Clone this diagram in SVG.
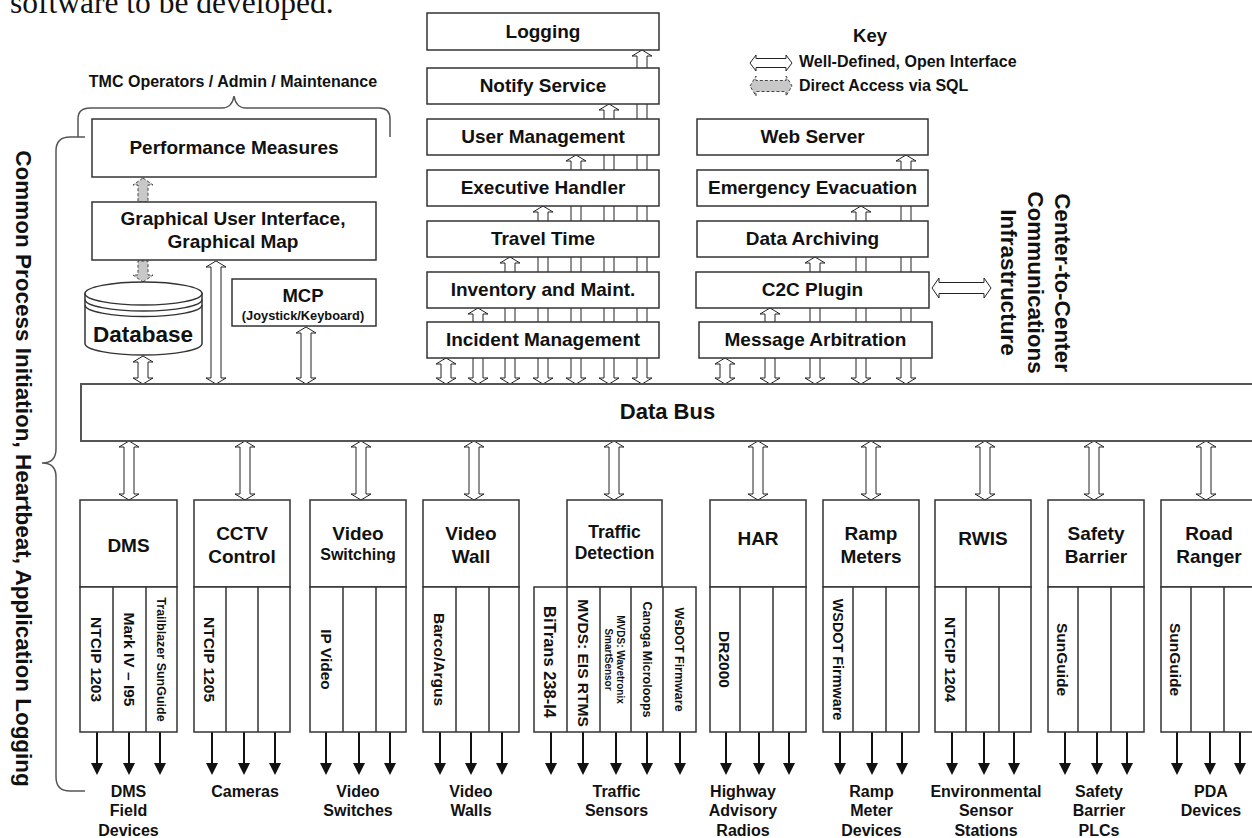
<svg xmlns="http://www.w3.org/2000/svg" width="1252" height="838" viewBox="0 0 1252 838">
<style>
.box{fill:#fff;stroke:#333;stroke-width:1.5}
.bus{fill:#fff;stroke:#555;stroke-width:2}
.t{font-family:"Liberation Sans",Arial,Helvetica,sans-serif;font-weight:bold;fill:#111;text-anchor:middle}
.ts{font-family:"Liberation Sans",Arial,Helvetica,sans-serif;font-weight:bold;fill:#111;text-anchor:start}
.ha{fill:#fff;stroke:#222;stroke-width:1}
.sql{fill:#c8c8c8;stroke:#444;stroke-width:1;stroke-dasharray:3 2}
.down{stroke:#111;stroke-width:2;fill:none;marker-end:url(#tri)}
.brace{fill:none;stroke:#555;stroke-width:1.5}
.div{fill:none;stroke:#333;stroke-width:1.5}
</style>
<defs>
<marker id="tri" viewBox="0 0 12 12" refX="3" refY="6" markerWidth="12" markerHeight="12" markerUnits="userSpaceOnUse" orient="auto">
<path d="M0,0 L12,6 L0,12 z" fill="#111"/>
</marker>
</defs>

<text x="10" y="13" font-family="'Liberation Serif','Times New Roman',serif" font-size="31.5" fill="#111">software to be developed.</text>

<!-- connectors -->
<g id="connectors">
<!-- left area -->
<path class="ha" d="M143,356 l10,6 h-5 v16 h5 l-10,6 l-10,-6 h5 v-16 h-5 z"/>
<path class="ha" d="M216,261 l10,6 h-5 v111 h5 l-10,6 l-10,-6 h5 v-111 h-5 z"/>
<path class="ha" d="M306,327 l10,6 h-5 v45 h5 l-10,6 l-10,-6 h5 v-45 h-5 z"/>
<path class="sql" d="M143,178 l10,7 h-5 v17 h-10 v-17 h-5 z"/>
<path class="sql" d="M143,282 l10,-7 h-5 v-14 h-10 v14 h-5 z"/>
<!-- middle column -->
<path class="ha" d="M446,358 l10,6 h-5 v14 h5 l-10,6 l-10,-6 h5 v-14 h-5 z"/>
<path class="ha" d="M478,308 l10,6 h-5 v64 h5 l-10,6 l-10,-6 h5 v-64 h-5 z"/>
<path class="ha" d="M510,257 l10,6 h-5 v115 h5 l-10,6 l-10,-6 h5 v-115 h-5 z"/>
<path class="ha" d="M543,206 l10,6 h-5 v166 h5 l-10,6 l-10,-6 h5 v-166 h-5 z"/>
<path class="ha" d="M576,155 l10,6 h-5 v217 h5 l-10,6 l-10,-6 h5 v-217 h-5 z"/>
<path class="ha" d="M609,104 l10,6 h-5 v268 h5 l-10,6 l-10,-6 h5 v-268 h-5 z"/>
<path class="ha" d="M642,50 l10,6 h-5 v322 h5 l-10,6 l-10,-6 h5 v-322 h-5 z"/>
<!-- right column -->
<path class="ha" d="M725,358 l10,6 h-5 v14 h5 l-10,6 l-10,-6 h5 v-14 h-5 z"/>
<path class="ha" d="M770,308 l10,6 h-5 v64 h5 l-10,6 l-10,-6 h5 v-64 h-5 z"/>
<path class="ha" d="M815,257 l10,6 h-5 v115 h5 l-10,6 l-10,-6 h5 v-115 h-5 z"/>
<path class="ha" d="M861,206 l10,6 h-5 v166 h5 l-10,6 l-10,-6 h5 v-166 h-5 z"/>
<path class="ha" d="M906,155 l10,6 h-5 v217 h5 l-10,6 l-10,-6 h5 v-217 h-5 z"/>
<!-- C2C external -->
<path class="ha" d="M932,288 l7,-10 v4.5 h45 v-4.5 l7,10 l-7,10 v-4.5 h-45 v4.5 z"/>
<!-- bus to devices -->
<path class="ha" d="M129,441 l10,6 h-5 v47 h5 l-10,6 l-10,-6 h5 v-47 h-5 z"/>
<path class="ha" d="M245,441 l10,6 h-5 v47 h5 l-10,6 l-10,-6 h5 v-47 h-5 z"/>
<path class="ha" d="M361,441 l10,6 h-5 v47 h5 l-10,6 l-10,-6 h5 v-47 h-5 z"/>
<path class="ha" d="M474,441 l10,6 h-5 v47 h5 l-10,6 l-10,-6 h5 v-47 h-5 z"/>
<path class="ha" d="M614,441 l10,6 h-5 v47 h5 l-10,6 l-10,-6 h5 v-47 h-5 z"/>
<path class="ha" d="M758,441 l10,6 h-5 v47 h5 l-10,6 l-10,-6 h5 v-47 h-5 z"/>
<path class="ha" d="M871,441 l10,6 h-5 v47 h5 l-10,6 l-10,-6 h5 v-47 h-5 z"/>
<path class="ha" d="M985,441 l10,6 h-5 v47 h5 l-10,6 l-10,-6 h5 v-47 h-5 z"/>
<path class="ha" d="M1094,441 l10,6 h-5 v47 h5 l-10,6 l-10,-6 h5 v-47 h-5 z"/>
<path class="ha" d="M1206,441 l10,6 h-5 v47 h5 l-10,6 l-10,-6 h5 v-47 h-5 z"/>
<!-- device outputs -->
<path class="down" d="M97,732V766"/><path class="down" d="M129,732V766"/><path class="down" d="M160,732V766"/>
<path class="down" d="M212,732V766"/><path class="down" d="M244,732V766"/><path class="down" d="M275,732V766"/>
<path class="down" d="M326,732V766"/><path class="down" d="M359,732V766"/><path class="down" d="M390,732V766"/>
<path class="down" d="M440,732V766"/><path class="down" d="M471,732V766"/><path class="down" d="M502,732V766"/>
<path class="down" d="M551,732V766"/><path class="down" d="M583,732V766"/><path class="down" d="M616,732V766"/><path class="down" d="M647,732V766"/><path class="down" d="M680,732V766"/>
<path class="down" d="M726,732V766"/><path class="down" d="M759,732V766"/><path class="down" d="M789,732V766"/>
<path class="down" d="M840,732V766"/><path class="down" d="M872,732V766"/><path class="down" d="M902,732V766"/>
<path class="down" d="M952,732V766"/><path class="down" d="M984,732V766"/><path class="down" d="M1014,732V766"/>
<path class="down" d="M1065,732V766"/><path class="down" d="M1097,732V766"/><path class="down" d="M1127,732V766"/>
<path class="down" d="M1177,732V766"/><path class="down" d="M1210,732V766"/><path class="down" d="M1240,732V766"/>
</g>

<!-- braces and side labels -->
<g id="operators">
<path class="brace" d="M78,137 V119 Q78,108 90,108 H222 Q232,108 234,96 Q236,108 246,108 H379 Q390,108 390,119 V137"/>
<text class="t" x="233" y="87" font-size="16">TMC Operators / Admin / Maintenance</text>
</g>
<g id="common-process">
<path class="brace" d="M85,137 H70 Q56,137 56,151 V449 Q56,463 42,463 Q56,463 56,477 V777 Q56,791 70,791 H85"/>
<text class="t" font-size="22.5" transform="translate(24,468.5) rotate(90)" y="8">Common Process Initiation, Heartbeat, Application Logging</text>
</g>

<!-- key -->
<g id="key">
<text class="t" x="870" y="42" font-size="18.5">Key</text>
<path class="ha" d="M750,63 l6,-8 v3.5 h30 v-3.5 l6,8 l-6,8 v-3.5 h-30 v3.5 z"/>
<text class="ts" x="799" y="67" font-size="16">Well-Defined, Open Interface</text>
<path class="sql" d="M750,86 l6,-10 v4.5 h30 v-4.5 l6,10 l-6,10 v-4.5 h-30 v4.5 z"/>
<text class="ts" x="799" y="90.5" font-size="16">Direct Access via SQL</text>
</g>

<!-- left nodes -->
<g id="performance-measures"><rect class="box" x="92" y="119" width="284" height="58"/><text class="t" x="234" y="154" font-size="19">Performance Measures</text></g>
<g id="gui"><rect class="box" x="92" y="202" width="284" height="58"/><text class="t" x="233" y="225" font-size="19">Graphical User Interface,</text><text class="t" x="233" y="248" font-size="19">Graphical Map</text></g>
<g id="database">
<path class="box" d="M85,293.5 V343.5 A58.5,11.5 0 0 0 202,343.5 V293.5 Z"/>
<ellipse class="box" cx="143.5" cy="293.5" rx="58.5" ry="11.5"/>
<path class="div" d="M85,299.5 A58.5,11.5 0 0 0 202,299.5 M85,305 A58.5,11.5 0 0 0 202,305"/>
<text class="t" x="143" y="342" font-size="22.5">Database</text>
</g>
<g id="mcp"><rect class="box" x="232" y="279" width="144" height="47"/><text class="t" x="303" y="302" font-size="18.5">MCP</text><text class="t" x="303" y="319.5" font-size="12.8">(Joystick/Keyboard)</text></g>

<!-- middle column -->
<g id="logging"><rect class="box" x="427" y="13" width="232" height="37"/><text class="t" x="543" y="37.5" font-size="19">Logging</text></g>
<g id="notify-service"><rect class="box" x="427" y="68" width="232" height="36"/><text class="t" x="543" y="91.5" font-size="19">Notify Service</text></g>
<g id="user-management"><rect class="box" x="427" y="119" width="232" height="36"/><text class="t" x="543" y="142.5" font-size="19">User Management</text></g>
<g id="executive-handler"><rect class="box" x="427" y="170" width="232" height="36"/><text class="t" x="543" y="193.5" font-size="19">Executive Handler</text></g>
<g id="travel-time"><rect class="box" x="427" y="221" width="232" height="36"/><text class="t" x="543" y="244.5" font-size="19">Travel Time</text></g>
<g id="inventory"><rect class="box" x="427" y="272" width="232" height="36"/><text class="t" x="543" y="295.5" font-size="19">Inventory and Maint.</text></g>
<g id="incident-management"><rect class="box" x="427" y="322" width="232" height="36"/><text class="t" x="543" y="345.5" font-size="19">Incident Management</text></g>

<!-- right column -->
<g id="web-server"><rect class="box" x="697" y="119" width="231" height="36"/><text class="t" x="812.5" y="142.5" font-size="19">Web Server</text></g>
<g id="emergency-evacuation"><rect class="box" x="697" y="170" width="231" height="36"/><text class="t" x="812.5" y="193.5" font-size="19">Emergency Evacuation</text></g>
<g id="data-archiving"><rect class="box" x="697" y="221" width="231" height="36"/><text class="t" x="812.5" y="244.5" font-size="19">Data Archiving</text></g>
<g id="c2c-plugin"><rect class="box" x="696" y="272" width="233" height="36"/><text class="t" x="812.5" y="295.5" font-size="19">C2C Plugin</text></g>
<g id="message-arbitration"><rect class="box" x="699" y="322" width="233" height="36"/><text class="t" x="815.5" y="345.5" font-size="19">Message Arbitration</text></g>

<g id="c2c-infrastructure">
<text class="t" font-size="22.5" transform="translate(1063,282.5) rotate(90)" y="8">Center-to-Center</text>
<text class="t" font-size="22.5" transform="translate(1036,282.5) rotate(90)" y="8">Communications</text>
<text class="t" font-size="22.5" transform="translate(1009,282.5) rotate(90)" y="8">Infrastructure</text>
</g>

<!-- data bus -->
<g id="data-bus"><rect class="bus" x="81" y="384" width="1190" height="57"/><text class="t" x="667.5" y="418.5" font-size="22">Data Bus</text></g>

<!-- devices -->
<g id="dms">
<rect class="box" x="80" y="500" width="97" height="87"/><rect class="box" x="80" y="587" width="97" height="145"/>
<path class="div" d="M113,587V732M146,587V732"/>
<text class="t" x="128.5" y="552" font-size="19">DMS</text>
<text class="t" font-size="15.5" transform="translate(96.5,659.5) rotate(90)" y="5.6">NTCIP 1203</text>
<text class="t" font-size="15.5" transform="translate(129.5,659.5) rotate(90)" y="5.6">Mark IV – I95</text>
<text class="t" font-size="12.5" transform="translate(161.5,659.5) rotate(90)" y="4.5">Trailblazer SunGuide</text>
</g>
<g id="cctv">
<rect class="box" x="194" y="500" width="96" height="87"/><rect class="box" x="194" y="587" width="96" height="145"/>
<path class="div" d="M226,587V732M258,587V732"/>
<text class="t" x="242" y="540" font-size="19">CCTV</text><text class="t" x="242" y="563" font-size="19">Control</text>
<text class="t" font-size="15.5" transform="translate(210,659.5) rotate(90)" y="5.6">NTCIP 1205</text>
</g>
<g id="video-switching">
<rect class="box" x="310" y="500" width="96" height="87"/><rect class="box" x="310" y="587" width="96" height="145"/>
<path class="div" d="M343,587V732M376,587V732"/>
<text class="t" x="358" y="540" font-size="19">Video</text><text class="t" x="358" y="559.5" font-size="16">Switching</text>
<text class="t" font-size="15.5" transform="translate(326.5,659.5) rotate(90)" y="5.6">IP Video</text>
</g>
<g id="video-wall">
<rect class="box" x="423" y="500" width="96" height="87"/><rect class="box" x="423" y="587" width="96" height="145"/>
<path class="div" d="M456,587V732M489,587V732"/>
<text class="t" x="471" y="539.5" font-size="19">Video</text><text class="t" x="471" y="563" font-size="19">Wall</text>
<text class="t" font-size="15.5" transform="translate(439.5,659.5) rotate(90)" y="5.6">Barco/Argus</text>
</g>
<g id="traffic-detection">
<rect class="box" x="567" y="500" width="95" height="87"/><rect class="box" x="534" y="587" width="162" height="145"/>
<path class="div" d="M567,587V732M600,587V732M631,587V732M663,587V732"/>
<text class="t" x="614.5" y="537.5" font-size="17.5">Traffic</text><text class="t" x="614.5" y="559" font-size="17.5">Detection</text>
<text class="t" font-size="16.5" transform="translate(550,662) rotate(90)" y="5.9">BiTrans 238-I4</text>
<text class="t" font-size="15.5" transform="translate(583.5,663) rotate(90)" y="5.6">MVDS: EIS RTMS</text>
<text class="t" font-size="10" transform="translate(615.5,659.5) rotate(90)"><tspan x="0" y="-1.9">MVDS: Wavetronix</tspan><tspan x="0" y="10.1">SmartSensor</tspan></text>
<text class="t" font-size="12.5" transform="translate(647,659.5) rotate(90)" y="4.5">Canoga Microloops</text>
<text class="t" font-size="12.5" transform="translate(679.5,659.5) rotate(90)" y="4.5">WsDOT Firmware</text>
</g>
<g id="har">
<rect class="box" x="710" y="500" width="96" height="87"/><rect class="box" x="710" y="587" width="96" height="145"/>
<path class="div" d="M740,587V732M773,587V732"/>
<text class="t" x="758" y="545" font-size="19">HAR</text>
<text class="t" font-size="15.5" transform="translate(725,659.5) rotate(90)" y="5.6">DR2000</text>
</g>
<g id="ramp-meters">
<rect class="box" x="823" y="500" width="96" height="87"/><rect class="box" x="823" y="587" width="96" height="145"/>
<path class="div" d="M853,587V732M886,587V732"/>
<text class="t" x="871" y="539.5" font-size="19">Ramp</text><text class="t" x="871" y="563" font-size="19">Meters</text>
<text class="t" font-size="14.4" transform="translate(838,659.5) rotate(90)" y="5.2">WSDOT Firmware</text>
</g>
<g id="rwis">
<rect class="box" x="935" y="500" width="96" height="87"/><rect class="box" x="935" y="587" width="96" height="145"/>
<path class="div" d="M966,587V732M999,587V732"/>
<text class="t" x="983" y="545" font-size="19">RWIS</text>
<text class="t" font-size="15.5" transform="translate(950.5,659.5) rotate(90)" y="5.6">NTCIP 1204</text>
</g>
<g id="safety-barrier">
<rect class="box" x="1048" y="500" width="96" height="87"/><rect class="box" x="1048" y="587" width="96" height="145"/>
<path class="div" d="M1078,587V732M1111,587V732"/>
<text class="t" x="1096" y="539.5" font-size="19">Safety</text><text class="t" x="1096" y="563" font-size="19">Barrier</text>
<text class="t" font-size="15.5" transform="translate(1063,659.5) rotate(90)" y="5.6">SunGuide</text>
</g>
<g id="road-ranger">
<rect class="box" x="1161" y="500" width="96" height="87"/><rect class="box" x="1161" y="587" width="96" height="145"/>
<path class="div" d="M1191,587V732M1224,587V732"/>
<text class="t" x="1209" y="539.5" font-size="19">Road</text><text class="t" x="1209" y="563" font-size="19">Ranger</text>
<text class="t" font-size="15.5" transform="translate(1176,659.5) rotate(90)" y="5.6">SunGuide</text>
</g>

<!-- field device labels -->
<g id="dms-field-devices"><text class="t" x="128.5" y="797" font-size="16">DMS</text><text class="t" x="128.5" y="816.3" font-size="16">Field</text><text class="t" x="128.5" y="835.6" font-size="16">Devices</text></g>
<g id="cameras"><text class="t" x="245" y="797" font-size="16">Cameras</text></g>
<g id="video-switches"><text class="t" x="358" y="797" font-size="16">Video</text><text class="t" x="358" y="816.3" font-size="16">Switches</text></g>
<g id="video-walls"><text class="t" x="471" y="797" font-size="16">Video</text><text class="t" x="471" y="816.3" font-size="16">Walls</text></g>
<g id="traffic-sensors"><text class="t" x="616.5" y="797" font-size="16">Traffic</text><text class="t" x="616.5" y="816.3" font-size="16">Sensors</text></g>
<g id="highway-advisory-radios"><text class="t" x="743" y="797" font-size="16">Highway</text><text class="t" x="743" y="816.3" font-size="16">Advisory</text><text class="t" x="743" y="835.6" font-size="16">Radios</text></g>
<g id="ramp-meter-devices"><text class="t" x="871.5" y="797" font-size="16">Ramp</text><text class="t" x="871.5" y="816.3" font-size="16">Meter</text><text class="t" x="871.5" y="835.6" font-size="16">Devices</text></g>
<g id="environmental-sensor-stations"><text class="t" x="986" y="797" font-size="16">Environmental</text><text class="t" x="986" y="816.3" font-size="16">Sensor</text><text class="t" x="986" y="835.6" font-size="16">Stations</text></g>
<g id="safety-barrier-plcs"><text class="t" x="1099" y="797" font-size="16">Safety</text><text class="t" x="1099" y="816.3" font-size="16">Barrier</text><text class="t" x="1099" y="835.6" font-size="16">PLCs</text></g>
<g id="pda-devices"><text class="t" x="1211" y="797" font-size="16">PDA</text><text class="t" x="1211" y="816.3" font-size="16">Devices</text></g>
</svg>
